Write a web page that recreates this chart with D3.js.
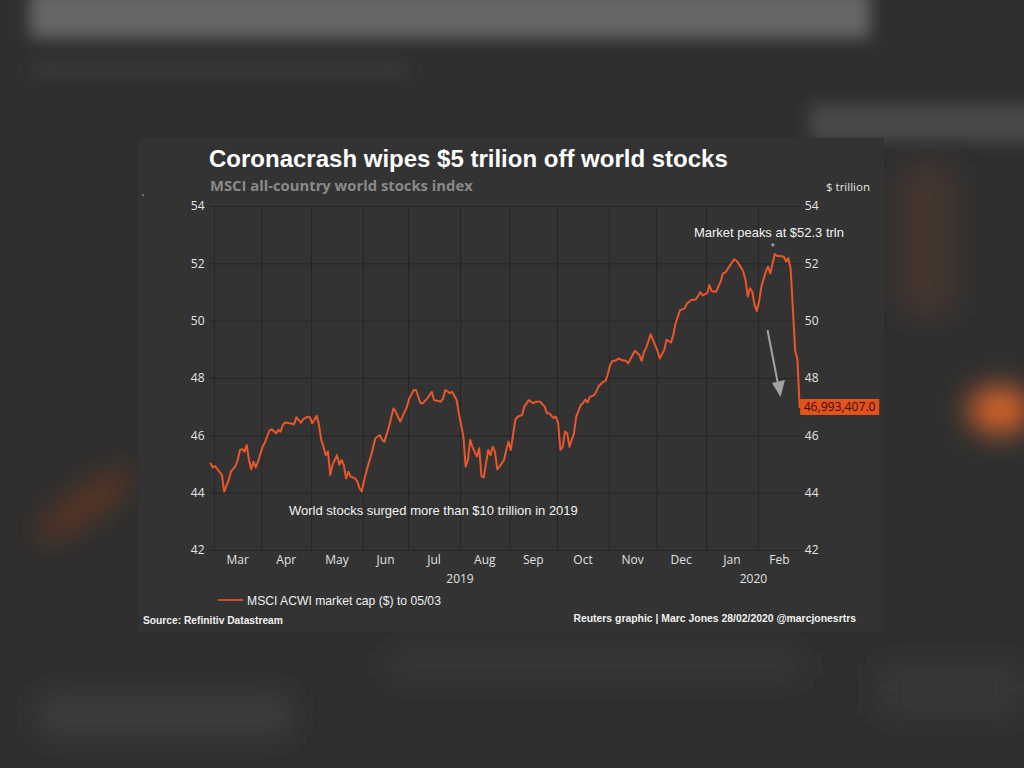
<!DOCTYPE html>
<html><head><meta charset="utf-8">
<script src="https://cdn.jsdelivr.net/npm/d3@7"></script>
<style>html,body{margin:0;padding:0;background:#2c2c2c;overflow:hidden}</style>
</head><body>
<svg id="c" width="1024" height="768"></svg>
<script>
// ---------------- DATA ----------------
const dates = [
"2019-02-27","2019-02-28","2019-03-01","2019-03-04","2019-03-06","2019-03-07","2019-03-11","2019-03-12","2019-03-14","2019-03-15",
"2019-03-18","2019-03-19","2019-03-20","2019-03-21","2019-03-22","2019-03-25","2019-03-26","2019-03-27","2019-03-28",
"2019-04-01","2019-04-02","2019-04-03","2019-04-04","2019-04-05","2019-04-09","2019-04-10","2019-04-11","2019-04-12","2019-04-15",
"2019-04-17","2019-04-19","2019-04-22","2019-04-24","2019-04-25","2019-04-29","2019-04-30",
"2019-05-01","2019-05-03","2019-05-06","2019-05-07","2019-05-08","2019-05-09","2019-05-10","2019-05-13","2019-05-14","2019-05-16",
"2019-05-17","2019-05-20","2019-05-21","2019-05-22","2019-05-23","2019-05-24","2019-05-28","2019-05-29","2019-05-30","2019-05-31",
"2019-06-03","2019-06-05","2019-06-06","2019-06-10","2019-06-12","2019-06-13","2019-06-14","2019-06-18","2019-06-20","2019-06-21",
"2019-06-25","2019-06-26","2019-06-28",
"2019-07-01","2019-07-03","2019-07-04","2019-07-08","2019-07-09","2019-07-11","2019-07-15","2019-07-16","2019-07-19","2019-07-22",
"2019-07-23","2019-07-25","2019-07-26","2019-07-30","2019-07-31",
"2019-08-02","2019-08-05","2019-08-06","2019-08-07","2019-08-08","2019-08-12","2019-08-13","2019-08-14","2019-08-15","2019-08-19",
"2019-08-20","2019-08-21","2019-08-22","2019-08-23","2019-08-26","2019-08-28","2019-08-29","2019-08-30",
"2019-09-02","2019-09-04","2019-09-05","2019-09-09","2019-09-10","2019-09-12","2019-09-16","2019-09-17","2019-09-19","2019-09-23",
"2019-09-24","2019-09-25","2019-09-27","2019-09-30",
"2019-10-01","2019-10-02","2019-10-03","2019-10-04","2019-10-07","2019-10-08","2019-10-09","2019-10-10","2019-10-11","2019-10-14",
"2019-10-15","2019-10-16","2019-10-17","2019-10-18","2019-10-21","2019-10-23","2019-10-24","2019-10-25","2019-10-29","2019-10-30","2019-10-31",
"2019-11-01","2019-11-04","2019-11-05","2019-11-07","2019-11-08","2019-11-12","2019-11-13","2019-11-15","2019-11-18","2019-11-20",
"2019-11-21","2019-11-22","2019-11-25","2019-11-27","2019-11-28",
"2019-12-02","2019-12-03","2019-12-05","2019-12-06","2019-12-10","2019-12-11","2019-12-12","2019-12-16","2019-12-18","2019-12-19",
"2019-12-23","2019-12-25","2019-12-27","2019-12-30",
"2020-01-01","2020-01-02","2020-01-03","2020-01-07","2020-01-08","2020-01-09","2020-01-10","2020-01-13","2020-01-15","2020-01-17",
"2020-01-20","2020-01-22","2020-01-23","2020-01-24","2020-01-27","2020-01-28","2020-01-29","2020-01-30","2020-01-31",
"2020-02-03","2020-02-04","2020-02-06","2020-02-07","2020-02-10","2020-02-11","2020-02-12","2020-02-13","2020-02-14","2020-02-18",
"2020-02-19","2020-02-20","2020-02-21","2020-02-24","2020-02-25","2020-02-26","2020-02-27"
];
const values = [
45.02,44.88,44.93,44.82,44.62,44.04,44.44,44.73,44.93,45.14,
45.49,45.52,45.43,45.66,45.14,44.82,45.08,44.88,45.08,
45.60,45.74,45.95,46.16,46.21,46.07,46.19,46.13,46.36,46.45,
46.42,46.39,46.63,46.44,46.56,46.65,46.63,
46.42,46.68,46.36,45.84,45.60,45.31,45.43,44.62,44.97,45.31,
44.97,45.14,44.97,44.50,44.73,44.56,44.50,44.39,44.15,44.04,
44.44,45.02,45.26,45.90,46.01,45.84,45.78,46.30,46.94,46.83,
46.48,46.65,47.00,
47.29,47.58,47.58,47.12,47.12,47.29,47.52,47.23,47.17,47.29,
47.58,47.47,47.52,47.23,46.77,
45.95,44.91,45.14,45.84,45.60,45.26,45.55,44.58,44.53,45.49,
45.31,45.60,45.43,44.82,44.91,45.14,45.49,45.78,
45.49,46.54,46.65,46.71,47.00,47.23,47.12,47.17,47.17,47.00,
46.77,46.77,46.60,46.65,
46.42,45.49,45.60,46.13,46.07,45.60,45.84,46.07,46.65,46.85,
47.06,47.12,47.25,47.15,47.33,47.41,47.55,47.72,47.87,47.90,48.13,
48.45,48.59,48.60,48.68,48.63,48.60,48.51,48.80,48.95,48.80,
48.60,48.90,49.06,49.52,49.33,
48.95,48.68,48.98,49.33,49.24,49.50,49.90,50.37,50.43,50.59,
50.72,50.74,51.00,50.88,
50.96,51.24,51.03,51.01,51.20,51.36,51.65,51.67,51.91,52.14,
52.09,51.86,51.71,51.42,50.84,51.13,51.01,50.55,50.34,
50.66,51.18,51.71,51.88,51.65,52.00,52.33,52.26,52.26,52.23,
52.06,52.18,51.80,50.40,48.95,48.65,46.99
];
const yTicks = [42, 44, 46, 48, 50, 52, 54];
const monthLabels = ["Mar","Apr","May","Jun","Jul","Aug","Sep","Oct","Nov","Dec","Jan","Feb"];
const yearLabels = ["2019", "2020"];
const titleText = "Coronacrash wipes $5 trilion off world stocks";
const subtitleText = "MSCI all-country world stocks index";
const unitText = "$ trillion";
const seriesName = "MSCI ACWI market cap ($) to 05/03";
const lastValueText = "46,993,407.0";
const peakText = "Market peaks at $52.3 trln";
const surgeText = "World stocks surged more than $10 trillion in 2019";
const sourceText = "Source: Refinitiv Datastream";
const creditText = "Reuters graphic | Marc Jones 28/02/2020 @marcjonesrtrs";

// ---------------- SETUP ----------------
const svg = d3.select("#c");
const defs = svg.append("defs");
[["b8",8],["b14",14],["b22",22]].forEach(([id,s])=>{
  defs.append("filter").attr("id",id).attr("filterUnits","userSpaceOnUse")
    .attr("x",-200).attr("y",-200).attr("width",1424).attr("height",1168)
    .append("feGaussianBlur").attr("stdDeviation",s);
});

// blurred backdrop
const bg = svg.append("g");
bg.append("rect").attr("width",1024).attr("height",768).attr("fill","#2f2f2f");
bg.append("rect").attr("x",30).attr("y",-10).attr("width",840).attr("height",48).attr("fill","#666").attr("filter","url(#b8)");
bg.append("rect").attr("x",30).attr("y",62).attr("width",380).attr("height",16).attr("fill","#393939").attr("filter","url(#b8)");
bg.append("rect").attr("x",810).attr("y",105).attr("width",240).attr("height",36).attr("fill","#4a4a4a").attr("filter","url(#b8)");
bg.append("rect").attr("x",900).attr("y",165).attr("width",55).attr("height",150).attr("fill","#45362f").attr("filter","url(#b14)");
bg.append("ellipse").attr("cx",1000).attr("cy",410).attr("rx",32).attr("ry",24).attr("fill","#d0622c").attr("filter","url(#b14)");
bg.append("ellipse").attr("cx",85).attr("cy",505).attr("rx",58).attr("ry",14).attr("transform","rotate(-35 85 505)").attr("fill","#5e3420").attr("filter","url(#b14)");
bg.append("rect").attr("x",40).attr("y",695).attr("width",250).attr("height",40).attr("fill","#3d3d3d").attr("filter","url(#b14)");
bg.append("rect").attr("x",390).attr("y",652).attr("width",410).attr("height",26).attr("fill","#373737").attr("filter","url(#b14)");
bg.append("rect").attr("x",880).attr("y",665).attr("width",140).attr("height",50).attr("fill","#383838").attr("filter","url(#b14)");

// panel
svg.append("rect").attr("x",139).attr("y",138).attr("width",745).attr("height",494).attr("fill","#333333");

const L = 209.5, R = 800.8, T = 206, B = 550;
const parse = d3.utcParse("%Y-%m-%d");
const start = parse(dates[0]), end = parse(dates[dates.length-1]);
const days = d3.utcDay.range(start, d3.utcDay.offset(end,1)).filter(d => d.getUTCDay()!==0 && d.getUTCDay()!==6);
const idx = new Map(days.map((d,i)=>[+d,i]));
const x = d3.scaleLinear().domain([-0.5, days.length-0.5]).range([L, R]);
const y = d3.scaleLinear().domain([42, 54]).range([B, T]);

// month boundaries (first weekday of each month)
const months = d3.utcMonth.range(d3.utcMonth.ceil(start), end);
const bounds = months.map(m => days.findIndex(d => d >= m) - 0.5);

// grid
const gridColor = "#262626";
const gx = svg.append("g").attr("transform",`translate(0,${B})`)
  .call(d3.axisBottom(x).tickValues(bounds).tickSize(-(B-T)).tickFormat(""));
gx.select(".domain").remove();
gx.selectAll("line").attr("stroke",gridColor).attr("stroke-width",1);
const gy = svg.append("g").attr("transform",`translate(${L},0)`)
  .call(d3.axisLeft(y).tickValues(yTicks).tickSize(-(R-L)).tickFormat(""));
gy.select(".domain").remove();
gy.selectAll("line").attr("stroke",gridColor).attr("stroke-width",1);

// y axes labels
const axFont = "'Open Sans', 'DejaVu Sans', sans-serif";
function styleAxis(g){
  g.select(".domain").remove();
  g.selectAll("line").remove();
  g.selectAll("text").attr("fill","#e4e4e4").attr("font-family",axFont).attr("font-size",12);
}
svg.append("g").attr("transform",`translate(${L},0)`)
  .call(d3.axisLeft(y).tickValues(yTicks).tickSize(0).tickPadding(5)).call(styleAxis);
svg.append("g").attr("transform",`translate(${R},0)`)
  .call(d3.axisRight(y).tickValues(yTicks).tickSize(0).tickPadding(4)).call(styleAxis);

// month labels
const edges = bounds.concat([x.domain()[1]]);
svg.append("g").selectAll("text").data(monthLabels).join("text")
  .attr("x",(d,i)=> (x(edges[i]) + x(edges[i+1]))/2)
  .attr("y",564).attr("text-anchor","middle")
  .attr("font-family",axFont).attr("font-size",12).attr("fill","#e0e0e0")
  .text(d=>d);
// year labels
const yearSpans = [[0,10],[10,12]];
svg.append("g").selectAll("text").data(yearLabels).join("text")
  .attr("x",(d,i)=> (x(edges[yearSpans[i][0]]) + x(edges[yearSpans[i][1]]))/2)
  .attr("y",583).attr("text-anchor","middle")
  .attr("font-family",axFont).attr("font-size",12).attr("fill","#e0e0e0")
  .text(d=>d);

// line
const pts = dates.map((d,i)=>({i: idx.get(+parse(d)), v: values[i]}));
const lineColor = "#e9572b";
svg.append("path").datum(pts)
  .attr("fill","none").attr("stroke",lineColor).attr("stroke-width",2)
  .attr("stroke-linejoin","round").attr("stroke-linecap","round")
  .attr("d", d3.line().x(d=>x(d.i)).y(d=>y(d.v)));

// helper to fit text width
function fit(sel, w){
  const n = sel.node(); const len = n.getComputedTextLength();
  const fs = parseFloat(sel.attr("font-size")); sel.attr("font-size", fs*w/len);
  return sel;
}
const arial = "'Liberation Sans', Arial, sans-serif";

// titles
fit(svg.append("text").attr("x",209).attr("y",167).attr("font-family",arial).attr("font-weight","bold")
  .attr("font-size",22).attr("fill","#ffffff").text(titleText), 519);
fit(svg.append("text").attr("x",210).attr("y",191).attr("font-family",axFont).attr("font-weight","bold")
  .attr("font-size",13).attr("fill","#8a8a8a").text(subtitleText), 263);
fit(svg.append("text").attr("x",826).attr("y",191).attr("font-family",axFont)
  .attr("font-size",12).attr("fill","#e4e4e4").text(unitText), 44);

// annotations
fit(svg.append("text").attr("x",694).attr("y",237).attr("font-family",arial)
  .attr("font-size",13).attr("fill","#f2f2f2").text(peakText), 150);
const peak = pts.reduce((a,b)=> b.v>a.v?b:a);
svg.append("circle").attr("cx",x(peak.i)-2).attr("cy",y(peak.v)-9).attr("r",1.6).attr("fill","#9a9a9a");
fit(svg.append("text").attr("x",289).attr("y",515).attr("font-family",arial)
  .attr("font-size",13).attr("fill","#f2f2f2").text(surgeText), 289);

// arrow
svg.append("line").attr("x1",767.5).attr("y1",330).attr("x2",778).attr("y2",384)
  .attr("stroke","#a3a3a3").attr("stroke-width",2);
svg.append("path").attr("d","M772,383 L785,380 L780.5,397 Z").attr("fill","#a3a3a3");

// last value label
const last = pts[pts.length-1];
svg.append("rect").attr("x",x(last.i)+0.5).attr("y",y(last.v)-8).attr("width",79).attr("height",16).attr("fill","#e4521d");
fit(svg.append("text").attr("x",x(last.i)+4).attr("y",y(last.v)+4.5).attr("font-family",axFont)
  .attr("font-size",12).attr("fill","#3a0f05").text(lastValueText), 72);

// legend
svg.append("line").attr("x1",218).attr("x2",243).attr("y1",600).attr("y2",600)
  .attr("stroke","#c9502c").attr("stroke-width",2);
fit(svg.append("text").attr("x",247).attr("y",605).attr("font-family",arial)
  .attr("font-size",13).attr("fill","#f0f0f0").text(seriesName), 194);

// footer
fit(svg.append("text").attr("x",143).attr("y",624).attr("font-family",arial).attr("font-weight","bold")
  .attr("font-size",11).attr("fill","#f0f0f0").text(sourceText), 140);
const cr = svg.append("text").attr("x",856).attr("y",622).attr("text-anchor","end").attr("font-family",arial).attr("font-weight","bold")
  .attr("font-size",11).attr("fill","#f0f0f0").text(creditText);
fit(cr, 283);
svg.append("circle").attr("cx",143).attr("cy",195).attr("r",0.8).attr("fill","#bbb");
</script>
</body></html>
